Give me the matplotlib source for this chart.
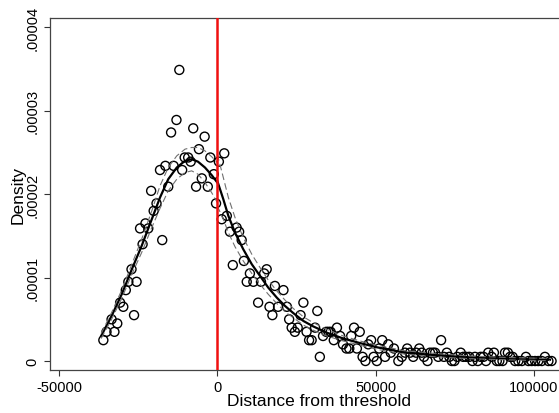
import numpy as np
import matplotlib
matplotlib.use("Agg")
import matplotlib.pyplot as plt

plt.rcParams['font.family'] = ['Liberation Sans', 'DejaVu Sans']

# binned densities (x in thousands, y in 1e-5)
bin_x_left = [-36.0, -35.0, -33.4, -32.5, -31.6, -30.7, -29.7, -28.9, -28.1, -27.1,
              -26.3, -25.5, -24.4, -23.6, -22.7, -21.8, -20.9, -20.1, -19.2, -18.1,
              -17.4, -16.4, -15.5, -14.6, -13.8, -12.9, -12.0, -11.1, -10.3, -9.2,
              -8.4, -7.6, -6.7, -5.8, -4.9, -4.0, -3.0, -2.2, -1.1, -0.4]
bin_y_left = [0.25, 0.35, 0.50, 0.35, 0.45, 0.70, 0.65, 0.85, 0.95, 1.10,
              0.55, 0.95, 1.59, 1.40, 1.65, 1.59, 2.04, 1.80, 1.89, 2.29,
              1.45, 2.34, 2.09, 2.74, 2.34, 2.89, 3.49, 2.29, 2.44, 2.44,
              2.39, 2.79, 2.09, 2.54, 2.19, 2.69, 2.09, 2.44, 2.24, 1.89]

bin_x_right = [0.5, 1.4, 2.2, 3.0, 4.0, 4.9, 6.1, 6.9, 7.7, 8.4,
               9.3, 10.3, 11.4, 12.9, 13.8, 14.8, 15.6, 16.5, 17.4, 18.2,
               19.2, 20.9, 22.0, 22.7, 23.5, 24.5, 25.4, 26.3, 27.2, 28.2,
               29.0, 29.8, 30.9, 31.6, 32.4, 33.4, 34.4, 35.1, 35.8, 36.8,
               37.8, 38.8, 39.7, 40.8, 41.7, 42.3, 43.2, 44.1, 45.0, 45.9,
               46.8, 47.7, 48.6, 49.4, 50.4, 51.1, 52.1, 53.0, 54.0, 54.8,
               55.8, 57.2, 58.3, 59.3, 60.0, 60.9, 61.9, 62.8, 63.8, 64.6,
               65.3, 66.4, 67.2, 68.1, 68.8, 69.8, 70.7, 71.6, 72.5, 73.3,
               74.1, 74.9, 75.8, 76.9, 77.7, 78.6, 79.6, 80.6, 81.4, 82.3,
               83.2, 84.1, 84.9, 85.6, 86.7, 87.4, 88.3, 89.1, 90.1, 90.9,
               91.8, 92.5, 93.3, 94.1, 95.1, 96.2, 97.5, 98.3, 99.3, 100.4,
               101.4, 102.5, 103.5, 104.6, 105.6]
bin_y_right = [2.39, 1.70, 2.49, 1.74, 1.55, 1.15, 1.60, 1.55, 1.45, 1.20,
               0.95, 1.05, 0.95, 0.70, 0.95, 1.05, 1.10, 0.65, 0.55, 0.90,
               0.65, 0.85, 0.65, 0.50, 0.40, 0.35, 0.40, 0.55, 0.70, 0.35,
               0.25, 0.25, 0.40, 0.60, 0.05, 0.30, 0.35, 0.35, 0.35, 0.25,
               0.40, 0.30, 0.20, 0.15, 0.15, 0.30, 0.40, 0.15, 0.35, 0.05,
               0.00, 0.20, 0.25, 0.05, 0.00, 0.15, 0.25, 0.05, 0.20, 0.10,
               0.15, 0.00, 0.05, 0.10, 0.15, 0.10, 0.05, 0.10, 0.15, 0.10,
               0.05, 0.00, 0.10, 0.10, 0.10, 0.05, 0.25, 0.05, 0.10, 0.05,
               0.00, 0.00, 0.05, 0.10, 0.05, 0.05, 0.05, 0.00, 0.05, 0.00,
               0.05, 0.05, 0.00, 0.10, 0.05, 0.10, 0.00, 0.00, 0.00, 0.10,
               0.10, 0.05, 0.05, 0.00, 0.00, 0.00, 0.05, 0.00, 0.00, 0.00,
               0.00, 0.00, 0.05, 0.00, 0.00]

# fitted density and confidence band, left of threshold
fit_x_left = [-36.7, -33.4, -30.2, -27.0, -23.9, -20.7, -18.1, -15.5, -12.8, -10.2,
              -8.1, -6.1, -3.9, -1.8, 0.0]
fit_y_left = [0.30, 0.54, 0.80, 1.10, 1.38, 1.70, 1.96, 2.18, 2.32, 2.40,
              2.42, 2.39, 2.32, 2.23, 2.14]
ci_hi_left = [0.33, 0.58, 0.85, 1.16, 1.46, 1.80, 2.10, 2.32, 2.46, 2.54,
              2.56, 2.56, 2.52, 2.45, 2.38]
ci_lo_left = [0.27, 0.50, 0.75, 1.04, 1.30, 1.60, 1.83, 2.04, 2.18, 2.26,
              2.28, 2.24, 2.14, 2.02, 1.90]

# fitted density and confidence band, right of threshold
fit_x_right = [0.0, 1.9, 3.5, 5.6, 8.2, 10.9, 13.5, 16.1, 18.8, 21.4,
               24.0, 27.2, 30.3, 34.6, 39.8, 45.1, 50.4, 58.8, 69.0, 79.8,
               92.0, 105.1]
fit_y_right = [2.16, 1.94, 1.74, 1.54, 1.34, 1.16, 1.02, 0.88, 0.76, 0.66,
               0.575, 0.48, 0.415, 0.34, 0.27, 0.215, 0.165, 0.104, 0.07, 0.044,
               0.028, 0.016]
ci_hi_right = [2.48, 2.20, 1.96, 1.72, 1.48, 1.28, 1.12, 0.97, 0.84, 0.73,
               0.63, 0.53, 0.46, 0.38, 0.30, 0.24, 0.19, 0.125, 0.09, 0.06,
               0.042, 0.03]
ci_lo_right = [1.86, 1.70, 1.54, 1.37, 1.20, 1.05, 0.92, 0.80, 0.69, 0.59,
               0.52, 0.43, 0.37, 0.30, 0.24, 0.19, 0.14, 0.085, 0.05, 0.028,
               0.014, 0.003]

x_ticks = [-50000, 0, 50000, 100000]
y_ticks = [0, 0.00001, 0.00002, 0.00003, 0.00004]
y_tick_labels = ['0', '.00001', '.00002', '.00003', '.00004']

K = 1000.0
S = 1e-5

fig = plt.figure(figsize=(5.59, 4.14), dpi=100)
# plot region runs a bit past the right edge of the image (cropped)
ax = fig.add_axes([0.0894, 0.1046, 0.9624, 0.8488])

ax.scatter(np.array(bin_x_left) * K, np.array(bin_y_left) * S, s=42,
           facecolors='none', edgecolors='black', linewidths=1.0, zorder=3)
ax.scatter(np.array(bin_x_right) * K, np.array(bin_y_right) * S, s=42,
           facecolors='none', edgecolors='black', linewidths=1.0, zorder=3)

for fx, fy, hi, lo in [(fit_x_left, fit_y_left, ci_hi_left, ci_lo_left),
                       (fit_x_right, fit_y_right, ci_hi_right, ci_lo_right)]:
    fx = np.array(fx) * K
    ax.plot(fx, np.array(fy) * S, color='black', lw=1.6, zorder=4)
    ax.plot(fx, np.array(hi) * S, color='#707070', lw=0.8, ls=(0, (6, 3)), zorder=4)
    ax.plot(fx, np.array(lo) * S, color='#707070', lw=0.8, ls=(0, (6, 3)), zorder=4)

ax.axvline(0, color='#f01010', lw=1.8, zorder=5)

ax.set_xlim(-52860, 117100)
ax.set_ylim(-0.104e-5, 4.109e-5)
ax.set_xticks(x_ticks)
ax.set_xticklabels([str(t) for t in x_ticks])
ax.set_yticks(y_ticks)
ax.set_yticklabels(y_tick_labels, rotation=90, va='center')
ax.tick_params(direction='out', length=4, width=0.8, colors='#333333',
               labelcolor='black', labelsize=10.5)
for side in ['left', 'bottom', 'top', 'right']:
    ax.spines[side].set_color('#444444')
    ax.spines[side].set_linewidth(0.9)

ax.set_xlabel('Distance from threshold', fontsize=12.5, labelpad=-1)
ax.set_ylabel('Density', fontsize=12.5, labelpad=0)

fig.savefig('out.png', dpi=100)
